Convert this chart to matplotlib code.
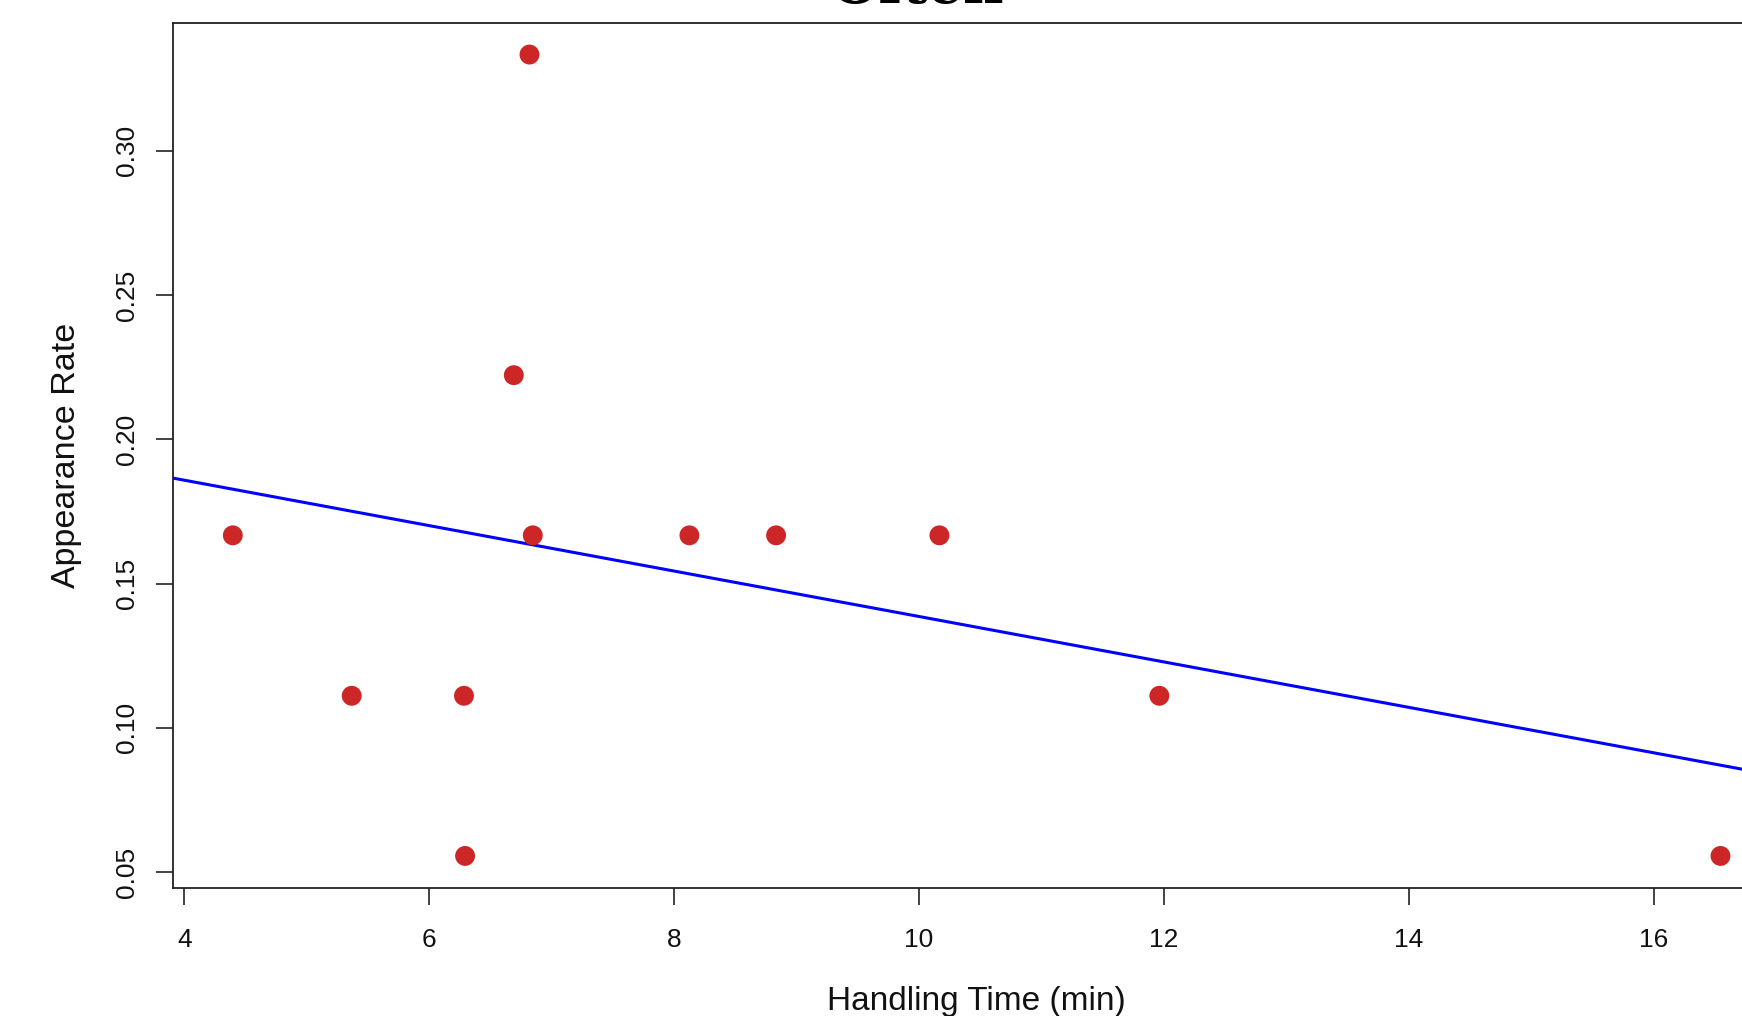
import numpy as np
import matplotlib
matplotlib.use("Agg")
import matplotlib.pyplot as plt
from matplotlib.ticker import FormatStrFormatter

# Data
handling_time = [4.395, 5.366, 6.283, 6.292, 6.690, 6.818, 6.845, 8.124, 8.832, 10.166, 11.962, 16.545]
appearance_rate = [0.1667, 0.1111, 0.1111, 0.0556, 0.2222, 0.3333, 0.1667, 0.1667, 0.1667, 0.1667, 0.1111, 0.0556]
x_ticks = [4, 6, 8, 10, 12, 14, 16]
y_ticks = [0.05, 0.10, 0.15, 0.20, 0.25, 0.30]
title_text = "Often"
x_label = "Handling Time (min)"
y_label = "Appearance Rate"

W, H = 1742, 1016
fig = plt.figure(figsize=(W / 100, H / 100), dpi=100)
plt.rcParams['font.family'] = ['Liberation Sans', 'DejaVu Sans']

left_px, right_px, top_px, bottom_px = 173.3, 1780.0, 22.5, 888.0
ax = fig.add_axes([left_px / W, 1 - bottom_px / H, (right_px - left_px) / W, (bottom_px - top_px) / H])

x = np.array(handling_time)
y = np.array(appearance_rate)

# R-style 4% padded limits
xr = x.max() - x.min()
yr = y.max() - y.min()
ax.set_xlim(x.min() - 0.04 * xr, x.max() + 0.04 * xr)
ax.set_ylim(y.min() - 0.04 * yr, y.max() + 0.04 * yr)

# regression line
m, b = np.polyfit(x, y, 1)
ax.axline((0, b), slope=m, color='#0000FF', lw=2.2, zorder=2)

ax.scatter(x, y, s=205, color='#CD2626', edgecolors='none', zorder=3)

ax.set_xticks(x_ticks)
ax.set_yticks(y_ticks)
ax.yaxis.set_major_formatter(FormatStrFormatter('%.2f'))
ax.tick_params(axis='both', length=12, width=1.2, color='#222222', labelsize=19,
               labelcolor='#111111')
ax.tick_params(axis='x', pad=17)
ax.tick_params(axis='y', labelrotation=90, pad=13)
for lab in ax.get_yticklabels():
    lab.set_va('center')

for sp in ax.spines.values():
    sp.set_color('#222222')
    sp.set_linewidth(1.3)

ax.set_xlabel(x_label, fontsize=24, color='#111111')
ax.xaxis.set_label_coords(0.5, -0.1135)
ax.set_ylabel(y_label, fontsize=24.5, color='#111111')
ax.yaxis.set_label_coords(-0.0570, 0.5)

fig.text(917.5 / W, 1 - 3.5 / H, title_text, family='DejaVu Serif', fontweight='bold',
         fontsize=40, ha='center', va='baseline', color='black')

fig.savefig('out.png', dpi=100)
